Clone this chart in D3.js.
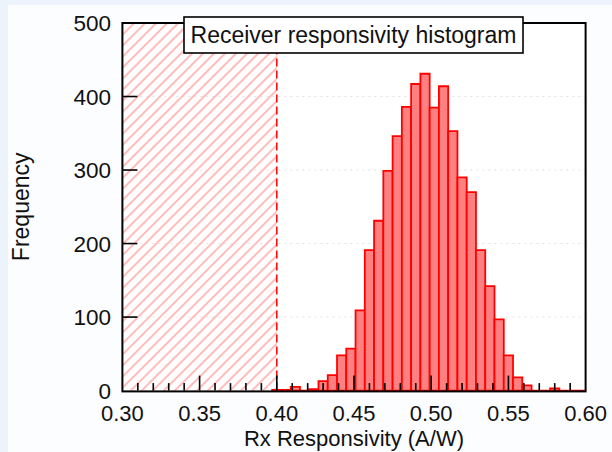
<!DOCTYPE html>
<html>
<head>
<meta charset="utf-8">
<script src="https://cdn.jsdelivr.net/npm/d3@7"></script>
<style>
  html, body { margin: 0; padding: 0; background: #edf3fb; }
  svg { display: block; font-family: "Liberation Sans", Arial, sans-serif; }
</style>
</head>
<body>
<div id="chart"></div>
<script>
const width = 612, height = 452;

// histogram bins (start, width) and counts per bin
const binStart = 0.397;
const binWidth = 0.006;
const counts = [1, 1, 5, 0, 2, 13, 21, 48, 57, 109, 191, 231, 299, 346, 386, 417, 431,
    385, 414, 353, 290, 270, 191, 142, 97, 48, 18, 7, 0, 0, 3, 0, 0, 0];
const xTicks = [0.30, 0.35, 0.40, 0.45, 0.50, 0.55, 0.60];
const xMinorTicks = d3.range(31, 60).map(d => d / 100);
const yTicks = [0, 100, 200, 300, 400, 500];
const threshold = 0.40;
const title = "Receiver responsivity histogram";
const xLabel = "Rx Responsivity (A/W)";
const yLabel = "Frequency";

const bins = counts.map((c, i) => ({ x0: binStart + i * binWidth, x1: binStart + (i + 1) * binWidth, count: c }));

const x = d3.scaleLinear().domain([0.30, 0.60]).range([122.4, 585.6]);
const y = d3.scaleLinear().domain([0, 500]).range([390.6, 23]);

const svg = d3.select("#chart").append("svg")
    .attr("width", width)
    .attr("height", height);

svg.append("rect")
    .attr("x", 8).attr("y", 5)
    .attr("width", width - 8).attr("height", height - 5)
    .attr("fill", "#fcfdff");

const defs = svg.append("defs");
defs.append("clipPath").attr("id", "plot-clip")
    .append("rect")
    .attr("x", x(0.30)).attr("y", y(500))
    .attr("width", x(0.60) - x(0.30)).attr("height", y(0) - y(500) + 2);

defs.append("pattern")
    .attr("id", "hatch")
    .attr("patternUnits", "userSpaceOnUse")
    .attr("width", 7.8).attr("height", 7.8)
    .attr("patternTransform", "rotate(45)")
    .append("line")
    .attr("x1", 2).attr("y1", 0).attr("x2", 2).attr("y2", 7.8)
    .attr("stroke", "#ffbcbc")
    .attr("stroke-width", 2);

svg.append("rect")
    .attr("x", x(0.30)).attr("y", y(500))
    .attr("width", x(0.60) - x(0.30)).attr("height", y(0) - y(500))
    .attr("fill", "#ffffff");

// grid
svg.append("g")
    .selectAll("line")
    .data(yTicks.slice(1, -1))
    .enter().append("line")
    .attr("x1", x(0.30)).attr("x2", x(0.60))
    .attr("y1", d => y(d)).attr("y2", d => y(d))
    .attr("stroke", "#e2e2e2")
    .attr("stroke-dasharray", "2,4");

// hatched region below threshold
svg.append("rect")
    .attr("x", x(0.30)).attr("y", y(500))
    .attr("width", x(threshold) - x(0.30)).attr("height", y(0) - y(500))
    .attr("fill", "url(#hatch)");

// bars
svg.append("g")
    .attr("clip-path", "url(#plot-clip)")
    .selectAll("path")
    .data(bins)
    .enter().append("path")
    .attr("d", d => `M${x(d.x0)},${y(0)}V${y(d.count)}H${x(d.x1)}V${y(0)}Z`)
    .attr("fill", "#ff8080")
    .attr("stroke", "#ff0000")
    .attr("stroke-width", 1.8)
    .attr("stroke-linejoin", "miter");

// threshold line
svg.append("line")
    .attr("x1", x(threshold)).attr("x2", x(threshold))
    .attr("y1", y(0)).attr("y2", y(500))
    .attr("stroke", "#ff0000")
    .attr("stroke-width", 1.5)
    .attr("stroke-dasharray", "8,4");

// frame
svg.append("rect")
    .attr("x", x(0.30)).attr("y", y(500))
    .attr("width", x(0.60) - x(0.30)).attr("height", y(0) - y(500) + 0.8)
    .attr("fill", "none")
    .attr("stroke", "#000")
    .attr("stroke-width", 2);

// inner ticks
svg.append("g")
    .selectAll("line")
    .data(xMinorTicks)
    .enter().append("line")
    .attr("x1", d => x(d)).attr("x2", d => x(d))
    .attr("y1", y(0))
    .attr("y2", d => Math.abs(Math.round(d * 100) % 5) === 0 ? y(0) - 15 : y(0) - 7.5)
    .attr("stroke", "#000")
    .attr("stroke-width", 1.6);

svg.append("g")
    .selectAll("line")
    .data(yTicks.slice(1, -1))
    .enter().append("line")
    .attr("x1", x(0.30)).attr("x2", x(0.30) + 15)
    .attr("y1", d => y(d)).attr("y2", d => y(d))
    .attr("stroke", "#000")
    .attr("stroke-width", 1.6);

// tick labels
svg.append("g")
    .selectAll("text")
    .data(xTicks)
    .enter().append("text")
    .attr("x", d => x(d))
    .attr("y", 421)
    .attr("text-anchor", "middle")
    .attr("font-size", 22)
    .attr("fill", "#111")
    .text(d => d3.format(".2f")(d));

svg.append("g")
    .selectAll("text")
    .data(yTicks)
    .enter().append("text")
    .attr("x", 111)
    .attr("y", d => y(d) + 8)
    .attr("text-anchor", "end")
    .attr("font-size", 22.5)
    .attr("fill", "#111")
    .text(d => d);

svg.append("text")
    .attr("x", (x(0.30) + x(0.60)) / 2)
    .attr("y", 445.8)
    .attr("text-anchor", "middle")
    .attr("font-size", 22)
    .attr("fill", "#111")
    .text(xLabel);

svg.append("text")
    .attr("transform", `translate(28.5,${(y(0) + y(500)) / 2}) rotate(-90)`)
    .attr("text-anchor", "middle")
    .attr("font-size", 23)
    .attr("fill", "#111")
    .text(yLabel);

// title box
svg.append("rect")
    .attr("x", 184).attr("y", 17)
    .attr("width", 339).attr("height", 36)
    .attr("fill", "#fff")
    .attr("stroke", "#000")
    .attr("stroke-width", 1.6);

svg.append("text")
    .attr("x", 353.5)
    .attr("y", 43)
    .attr("text-anchor", "middle")
    .attr("font-size", 23)
    .attr("fill", "#111")
    .text(title);
</script>
</body>
</html>
